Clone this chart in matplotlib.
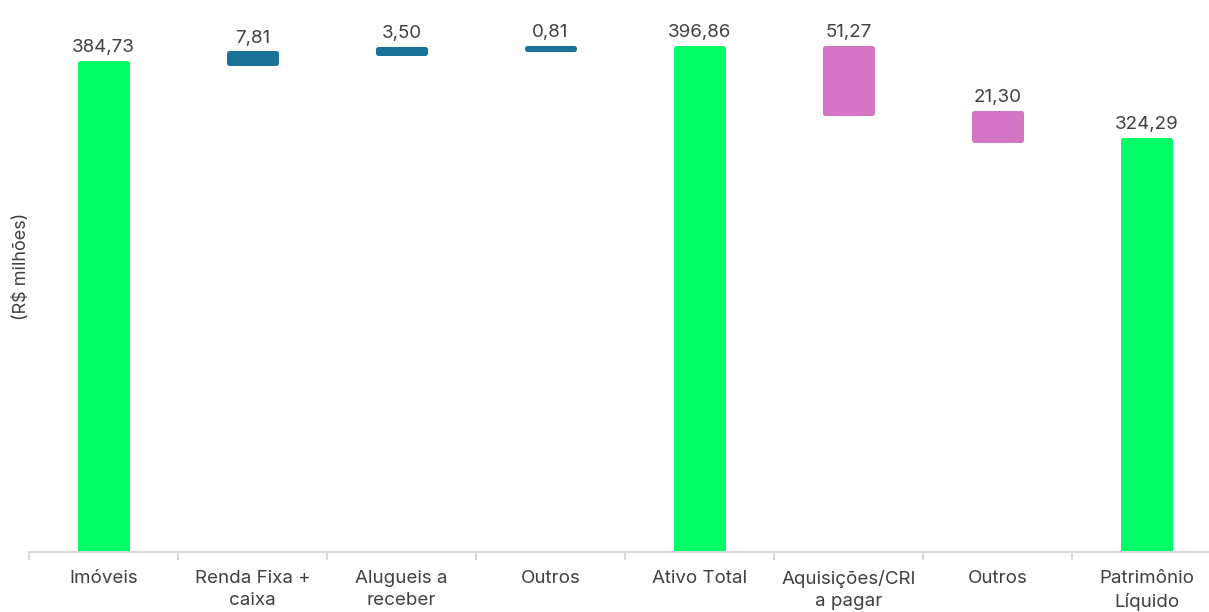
import matplotlib
matplotlib.use("Agg")
import matplotlib.pyplot as plt
import numpy as np

categories = ["Imóveis", "Renda Fixa +\ncaixa", "Alugueis a\nreceber", "Outros",
              "Ativo Total", "Aquisições/CRI\na pagar", "Outros", "Patrimônio\nLíquido"]
values = [384.73, 7.81, 3.50, 0.81, 396.86, -51.27, -21.30, 324.29]
kinds = ["total", "up", "up", "up", "total", "down", "down", "total"]

colors = {"total": "#00FF66", "up": "#1B7298", "down": "#D575C3"}

plt.rcParams['font.family'] = ['Inter', 'DejaVu Sans']

fig = plt.figure(figsize=(12.09, 6.12), dpi=100)
ax = fig.add_axes([29/1209, 60/612, 1180/1209, 552/612])

bottoms, heights = [], []
running = 0.0
for v, k in zip(values, kinds):
    if k == "total":
        bottoms.append(0.0)
        heights.append(v)
        running = v
    else:
        new = running + v
        bottoms.append(min(running, new))
        heights.append(abs(v))
        running = new

x = np.arange(len(categories))
for xi, b, h, k, v in zip(x, bottoms, heights, kinds, values):
    c = colors[k]
    ax.bar(xi, h, bottom=b, width=0.32, color=c, edgecolor=c,
           linewidth=3.6, joinstyle="round", zorder=2)
    top = b + h
    ax.annotate(f"{abs(v):.2f}".replace(".", ","), (xi, top),
                xytext=(0, 5), textcoords="offset points",
                ha="center", va="bottom", fontsize=13.5, color="#404040")

for s in ["top", "right", "left"]:
    ax.spines[s].set_visible(False)
ax.spines["bottom"].set_color("#D9D9D9")
ax.spines["bottom"].set_linewidth(1.5)
ax.set_yticks([])

ax.set_xticks(x)
ax.set_xticklabels(categories, fontsize=13.5, color="#404040", linespacing=1.4)
ax.tick_params(axis="x", which="major", length=0, pad=13)
ax.set_xticks(np.arange(-0.5, 7.0, 1.0), minor=True)
ax.tick_params(axis="x", which="minor", length=6, width=1.5, color="#D9D9D9")

ax.set_xlim(-0.5, -0.5 + 1180/149)
ax.set_ylim(0, 552/1.27)

fig.text(22/1209, 1 - 266/612, "(R$ milhões)", rotation=90, ha="center", va="center",
         fontsize=13, color="#404040")

fig.savefig("out.png", dpi=100)
